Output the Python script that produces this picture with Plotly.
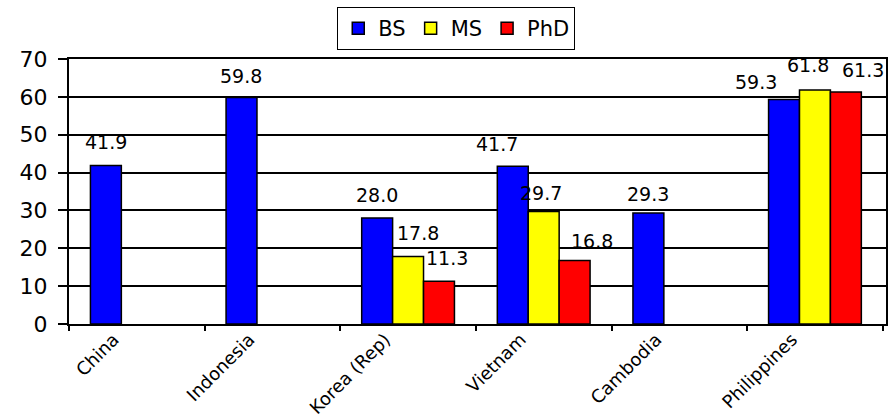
import plotly.graph_objects as go

# Share of respondents by degree level, per country (%)
countries = ["China", "Indonesia", "Korea (Rep)", "Vietnam", "Cambodia", "Philippines"]
bs_values = [41.9, 59.8, 28.0, 41.7, 29.3, 59.3]
ms_values = [None, None, 17.8, 29.7, None, 61.8]
phd_values = [None, None, 11.3, 16.8, None, 61.3]

series_names = ["BS", "MS", "PhD"]
series_colors = ["#0000FF", "#FFFF00", "#FF0000"]
series_values = [bs_values, ms_values, phd_values]

# Hand placement of value labels (pixel nudges: dx, dy) to keep them readable
label_nudges = {
    ("Korea (Rep)", "BS"): (0, 1),
    ("Korea (Rep)", "MS"): (10, 2),
    ("Korea (Rep)", "PhD"): (8, 1),
    ("Vietnam", "BS"): (-16, 0),
    ("Vietnam", "MS"): (-3, -3),
    ("Vietnam", "PhD"): (17, -3),
    ("Cambodia", "BS"): (0, -3),
    ("Philippines", "BS"): (-28, -4),
    ("Philippines", "MS"): (-7, 3),
    ("Philippines", "PhD"): (17, 0),
    ("China", "BS"): (0, 1),
}

W, H = 890, 418
M_L, M_R, M_T, M_B = 69, 4, 59, 94
BARGAP = 0.316
FONT = "DejaVu Sans, Liberation Sans, Arial, sans-serif"

fig = go.Figure()
for name, color, vals in zip(series_names, series_colors, series_values):
    fig.add_trace(go.Bar(
        name=name,
        x=countries,
        y=vals,
        marker=dict(color=color, line=dict(color="black", width=1.5)),
    ))

# Value labels above each bar
plot_w = W - M_L - M_R
cat_w = plot_w / len(countries)
bar_w = cat_w * (1 - BARGAP) / len(series_names)
annotations = []
for si, (name, vals) in enumerate(zip(series_names, series_values)):
    offset = (si - (len(series_names) - 1) / 2) * bar_w
    for c, v in zip(countries, vals):
        if v is None:
            continue
        dx, dy = label_nudges.get((c, name), (0, 0))
        annotations.append(dict(
            x=c, y=v, xref="x", yref="y",
            text=f"{v:.1f}", showarrow=False,
            xanchor="center", yanchor="bottom",
            xshift=offset + dx, yshift=9 + dy,
            font=dict(family=FONT, size=19, color="black"),
        ))

fig.update_layout(
    width=W, height=H,
    margin=dict(l=M_L, r=M_R, t=M_T, b=M_B, autoexpand=False),
    paper_bgcolor="white",
    plot_bgcolor="white",
    barmode="group",
    bargap=BARGAP,
    bargroupgap=0,
    font=dict(family=FONT, color="black"),
    annotations=annotations,
    legend=dict(
        orientation="h",
        x=0.474, xanchor="center",
        y=1.196, yanchor="top",
        bgcolor="white",
        bordercolor="black",
        borderwidth=1,
        font=dict(family=FONT, size=21, color="black"),
        itemwidth=30,
    ),
    showlegend=True,
)

fig.update_xaxes(
    showline=True, linecolor="black", linewidth=2, mirror=True,
    ticks="outside", ticklen=5, tickcolor="black", tickwidth=2,
    tickson="boundaries",
    tickangle=-45,
    ticklabelshift=-23,
    ticklabelstandoff=-4,
    tickfont=dict(family=FONT, size=18, color="black"),
    showgrid=False,
)
fig.update_yaxes(
    range=[0, 70], dtick=10,
    showline=True, linecolor="black", linewidth=2, mirror=True,
    ticks="outside", ticklen=9, tickcolor="black", tickwidth=2,
    ticklabelstandoff=6,
    showgrid=True, gridcolor="black", gridwidth=1.5,
    zeroline=False,
    tickfont=dict(family=FONT, size=22, color="black"),
)

fig.write_html("out.html")
